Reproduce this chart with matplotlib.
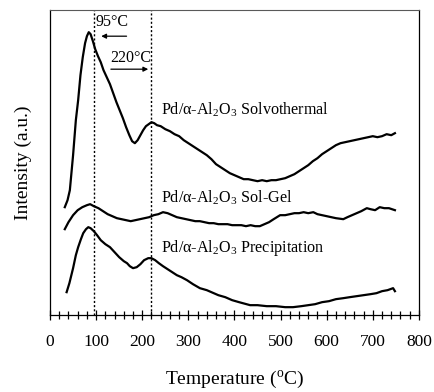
import matplotlib
matplotlib.use("Agg")
import matplotlib.pyplot as plt

plt.rcParams["font.family"] = ["Liberation Serif", "DejaVu Serif"]
plt.rcParams["mathtext.fontset"] = "custom"
plt.rcParams["mathtext.rm"] = "Liberation Serif"
plt.rcParams["mathtext.it"] = "Liberation Serif:italic"

# TPR profiles (temperature in degC, intensity in arbitrary units)
solvo_t = [32, 38, 43, 50, 56, 61, 66, 71, 76, 80, 84, 88, 93, 98, 104, 110, 116, 122,
           130, 137, 144, 151, 158, 165, 172, 178, 184, 190, 196, 202, 208, 214, 220,
           226, 232, 240, 250, 260, 270, 280, 290, 300, 310, 320, 330, 340, 350, 360,
           370, 380, 390, 400, 410, 420, 430, 440, 450, 460, 470, 480, 490, 500, 510,
           520, 530, 540, 550, 560, 570, 580, 590, 600, 610, 620, 630, 640, 650, 660,
           670, 680, 690, 700, 710, 720, 730, 740, 748]
solvo_i = [108, 115, 125, 160, 195, 215, 240, 258, 272, 279, 283, 281, 274, 266, 259, 253,
           245, 239, 231, 222, 213, 205, 197, 188, 180, 174, 172, 175, 180, 185, 189, 191,
           193, 192, 190, 189, 186, 184, 181, 179, 175, 172, 169, 166, 163, 160, 156, 151,
           148, 145, 142, 140, 138, 136, 136, 135, 134, 135, 134, 135, 135, 136, 137, 139,
           141, 144, 147, 150, 154, 157, 161, 164, 167, 170, 172, 173, 174, 175, 176, 177,
           178, 179, 178, 179, 181, 180, 182]

solgel_t = [32, 40, 50, 60, 70, 80, 87, 95, 105, 115, 125, 135, 145, 155, 165, 175, 185,
            195, 205, 215, 225, 235, 245, 255, 265, 275, 285, 295, 305, 315, 325, 335,
            345, 355, 365, 375, 385, 395, 405, 415, 425, 435, 445, 455, 465, 475, 485,
            499, 510, 520, 530, 540, 550, 560, 571, 580, 590, 600, 610, 620, 636, 645,
            655, 665, 675, 687, 695, 705, 715, 725, 735, 748]
solgel_i = [86, 93, 100, 105, 108, 110, 111, 109, 107, 104, 101, 99, 97, 96, 95, 94, 95,
            96, 97, 98, 100, 101, 103, 102, 100, 98, 97, 96, 95, 94, 94, 93, 92, 92, 91,
            91, 91, 90, 90, 90, 89, 90, 89, 89, 91, 93, 96, 100, 100, 101, 102, 102, 103,
            102, 103, 101, 100, 99, 98, 97, 96, 98, 100, 102, 104, 107, 106, 105, 108,
            107, 107, 105]

precip_t = [36, 42, 50, 56, 61, 67, 72, 78, 83, 88, 95, 102, 110, 120, 130, 140, 150,
            160, 167, 173, 180, 188, 196, 204, 213, 220, 228, 236, 245, 255, 265, 275,
            285, 297, 310, 325, 340, 355, 365, 380, 395, 410, 434, 450, 470, 490, 510,
            527, 545, 560, 575, 590, 605, 620, 636, 650, 665, 680, 695, 708, 720, 732,
            744, 748]
precip_i = [23, 32, 47, 60, 68, 76, 82, 86, 88, 87, 84, 80, 75, 71, 68, 63, 58, 54, 52,
            49, 47, 48, 51, 55, 57, 57, 55, 52, 49, 46, 43, 40, 38, 35, 31, 27, 25, 22,
            20, 18, 15, 13, 10, 10, 9, 9, 8, 8, 9, 10, 11, 13, 14, 16, 17, 18, 19, 20,
            21, 22, 24, 25, 27, 24]

series_labels = ["Pd/α-Al$_2$O$_3$ Solvothermal",
                 "Pd/α-Al$_2$O$_3$ Sol-Gel",
                 "Pd/α-Al$_2$O$_3$ Precipitation"]
label_pos = [(241, 205), (241, 117), (241, 67)]

peak_temps = [95, 220]
peak_labels = ["95°C", "220°C"]

xticks = [0, 100, 200, 300, 400, 500, 600, 700, 800]

fig = plt.figure(figsize=(4.35, 3.92), dpi=100)
ax = fig.add_axes([0.115, 0.196, 0.848, 0.778])

for t, i in [(solvo_t, solvo_i), (solgel_t, solgel_i), (precip_t, precip_i)]:
    ax.plot(t, i, color="black", lw=1.6, solid_joinstyle="round")

for pt in peak_temps:
    ax.axvline(pt, color="black", lw=1.0, ls=(0, (1.5, 1.5)))

for lab, (x, y) in zip(series_labels, label_pos):
    ax.text(x, y, lab, fontsize=11.6, ha="left", va="center")

# peak temperature annotations with arrows
ax.text(134, 293, peak_labels[0], fontsize=11.5, ha="center", va="center")
ax.annotate("", xy=(105, 279), xytext=(172, 279),
            arrowprops=dict(arrowstyle="-|>", color="black", lw=0.9,
                            mutation_scale=7))
ax.text(174, 257, peak_labels[1], fontsize=11.5, ha="center", va="center")
ax.annotate("", xy=(219, 246), xytext=(126, 246),
            arrowprops=dict(arrowstyle="-|>", color="black", lw=0.9,
                            mutation_scale=7))

ax.set_xlim(0, 800)
ax.set_ylim(0, 305)
ax.set_xticks(xticks)
ax.set_xticks(range(0, 801, 20), minor=True)
ax.set_yticks([])
ax.tick_params(axis="x", which="both", direction="inout", length=7, width=0.9,
               labelsize=12.5, pad=10)
ax.tick_params(axis="x", which="minor", length=6)
ax.spines["top"].set_color("0.35")
ax.spines["top"].set_linewidth(0.8)
for s in ["left", "right", "bottom"]:
    ax.spines[s].set_linewidth(0.9)

ax.set_xlabel(r"Temperature ($^{\mathrm{o}}$C)", fontsize=14, labelpad=14)
ax.set_ylabel("Intensity (a.u.)", fontsize=14, labelpad=13)

fig.savefig("out.png", dpi=100)
